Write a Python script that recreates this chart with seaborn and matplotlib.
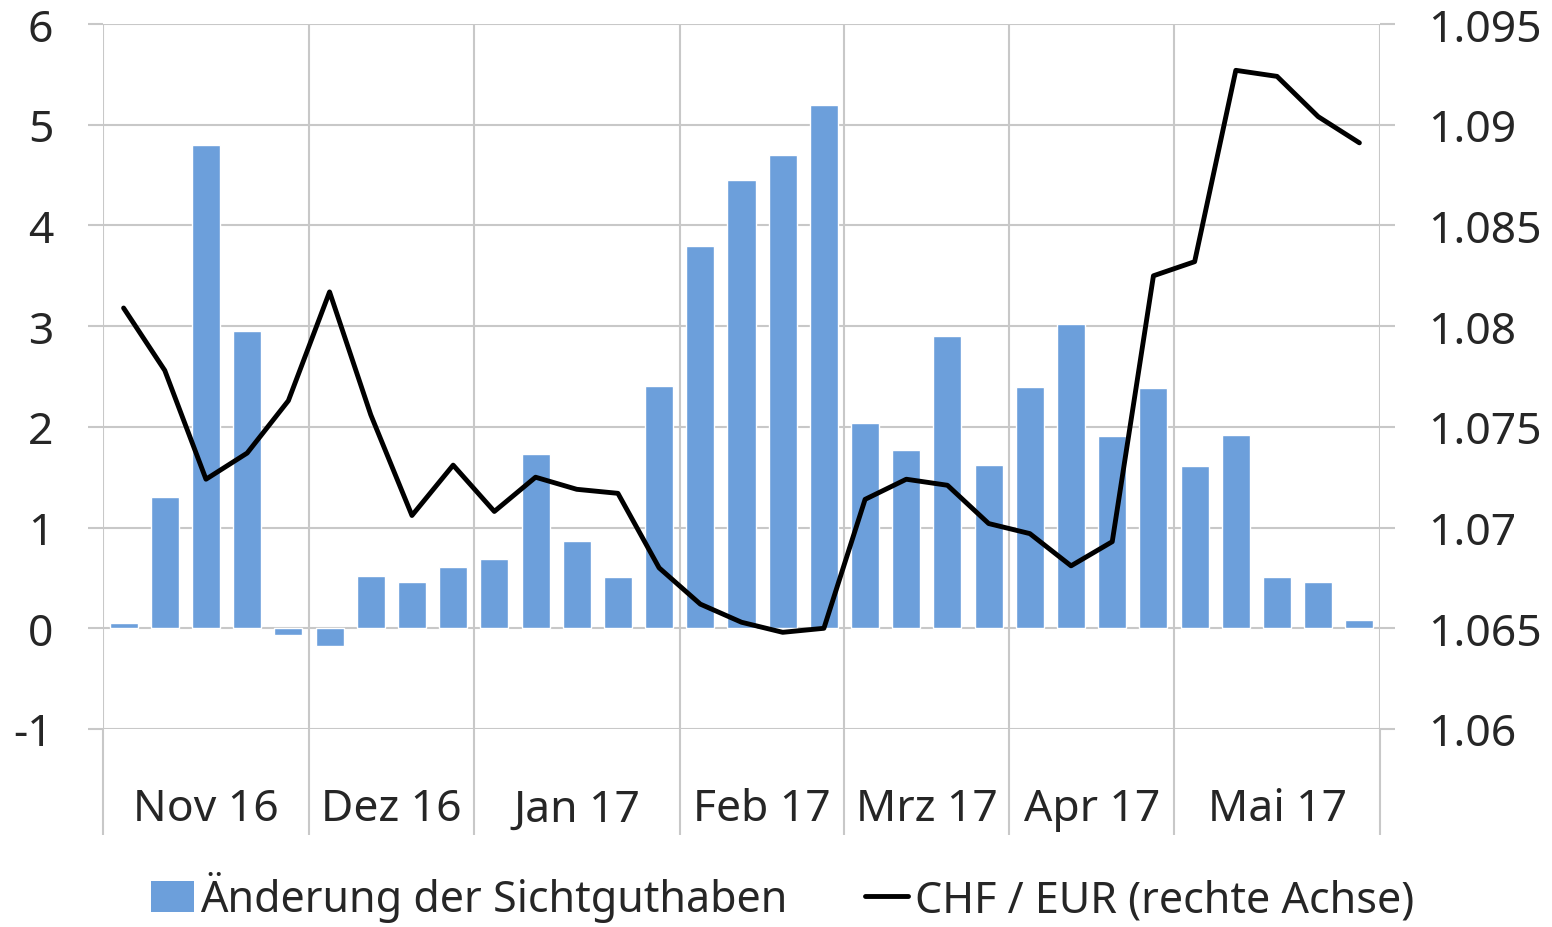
import numpy as np
import pandas as pd
import matplotlib.pyplot as plt
import seaborn as sns
from matplotlib.patches import Patch
from matplotlib.lines import Line2D

# weekly changes in sight deposits (left axis)
sichtguthaben = [0.05, 1.3, 4.8, 2.95, -0.07, -0.18, 0.52, 0.46, 0.61, 0.69,
                 1.73, 0.87, 0.51, 2.41, 3.8, 4.45, 4.7, 5.2, 2.04, 1.77,
                 2.9, 1.62, 2.4, 3.02, 1.91, 2.39, 1.61, 1.92, 0.51, 0.46, 0.08]
# CHF / EUR (right axis)
chf_eur = [1.0809, 1.0778, 1.0724, 1.0737, 1.0763, 1.0817, 1.0756, 1.0706,
           1.0731, 1.0708, 1.0725, 1.0719, 1.0717, 1.0680, 1.0662, 1.0653,
           1.0648, 1.0650, 1.0714, 1.0724, 1.0721, 1.0702, 1.0697, 1.0681,
           1.0693, 1.0825, 1.0832, 1.0927, 1.0924, 1.0904, 1.0891]
months = ["Nov 16", "Dez 16", "Jan 17", "Feb 17", "Mrz 17", "Apr 17", "Mai 17"]
weeks_per_month = [5, 4, 5, 4, 4, 4, 5]

df = pd.DataFrame({"woche": np.arange(len(sichtguthaben)),
                   "aenderung": sichtguthaben,
                   "kurs": chf_eur})

sns.set_theme(style="white")
plt.rcParams["font.family"] = ["Noto Sans", "DejaVu Sans"]
plt.rcParams["axes.unicode_minus"] = False

blue = "#6C9FDB"
grid = "#C8C8C8"
fs = 32

fig = plt.figure(figsize=(15.52, 9.28), dpi=100)
ax = fig.add_axes([103 / 1552, 1 - 730 / 928, 1277 / 1552, 705 / 928])

sns.barplot(data=df, x="woche", y="aenderung", color=blue, width=0.68,
            errorbar=None, saturation=1, ax=ax, zorder=2)

ax2 = ax.twinx()
sns.lineplot(data=df, x="woche", y="kurs", color="black", linewidth=3.5,
             ax=ax2, zorder=3)

n = len(sichtguthaben)
ax.set_xlim(-0.5, n - 0.5)
ax.set_ylim(-1, 6)
ax2.set_ylim(1.06, 1.095)
ax2.set_xlim(-0.5, n - 0.5)

# month boundaries and centres
edges = np.concatenate([[0], np.cumsum(weeks_per_month)]) - 0.5
centres = (edges[:-1] + edges[1:]) / 2
ax.set_xticks(edges)
ax.set_xticklabels([""] * len(edges))
ax.set_xticks(centres, minor=True)
ax.set_xticklabels(months, minor=True, fontsize=fs)
ax.tick_params(axis="x", which="major", direction="out", length=76,
               width=1.5, color=grid, bottom=True)
ax.tick_params(axis="x", which="minor", length=0, pad=42)

ax.set_yticks(range(-1, 7))
ax.tick_params(axis="y", direction="out", length=10.8, width=1.5,
               color=grid, left=True, pad=25, labelsize=fs)
ticks2 = np.arange(1.06, 1.0951, 0.005)
ax2.set_yticks(ticks2)
ax2.set_yticklabels([f"{t:g}" for t in np.round(ticks2, 3)])
ax2.tick_params(axis="y", direction="out", length=10.8, width=1.5,
                color=grid, right=True, pad=24, labelsize=fs)

ax.grid(True, axis="both", which="major", color=grid, linewidth=1.5)
ax.set_axisbelow(True)
for a in (ax, ax2):
    for s in a.spines.values():
        s.set_visible(False)
    a.set_xlabel("")
    a.set_ylabel("")

handles = [Patch(facecolor=blue, edgecolor="none"),
           Line2D([0], [0], color="black", linewidth=3.5)]
labels = ["Änderung der Sichtguthaben", "CHF / EUR (rechte Achse)"]
fig.legend(handles, labels, loc="center", bbox_to_anchor=(0.504, 1 - 898 / 928),
           ncol=2, frameon=False, fontsize=31, handlelength=1.0,
           handleheight=0.7, handletextpad=0.15, columnspacing=1.8,
           borderaxespad=0)

fig.savefig("out.png", dpi=100)
